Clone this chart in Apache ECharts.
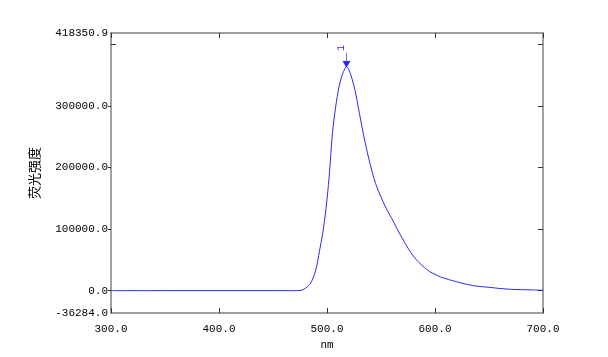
<!DOCTYPE html>
<html>
<head>
<meta charset="utf-8">
<script src="https://cdn.jsdelivr.net/npm/echarts@6/dist/echarts.min.js"></script>
<style>html,body{margin:0;padding:0;background:#fff}#c{width:608px;height:357px}</style>
</head>
<body>
<div id="c"></div>
<script>
var wavelengths = [300,350,400,450,470,476,480,484,487,490,493,496,499,502,505,508,511,514,517,518,520,523,526,530,535,540,545,550,555,560,565,570,575,580,585,590,595,600,605,610,615,620,630,640,650,660,670,680,690,700];
var intensity = [0,0,0,0,0,500,4000,10000,20000,36000,64000,93000,132000,185000,255000,298000,330000,350000,362000,363600,360000,345000,325000,288000,243000,205000,174000,152000,133000,117000,100000,84000,69000,56000,46000,38000,31000,26500,22300,19500,16800,14500,10000,7000,5500,3500,2200,1600,1200,600];
var yLabelValues = [-36284.0, 0, 100000, 200000, 300000, 418350.9];
var yTickValues = [0, 100000, 200000, 300000];
var yMin = -36284.0, yMax = 418350.9;
var xMin = 300, xMax = 700;
var peakX = 518, peakY = 363600, peakLabel = '1';

var mono = '"Liberation Mono", "DejaVu Sans Mono", monospace';
var axisGray = '#808080';
var chart = echarts.init(document.getElementById('c'));
var data = wavelengths.map(function(w, i){ return [w, intensity[i]]; });
chart.setOption({
  animation: false,
  grid: {left: 111, top: 33, right: 65, bottom: 44},
  xAxis: [{
    type: 'value', position: 'bottom', min: xMin, max: xMax, interval: 100,
    name: 'nm', nameLocation: 'middle', nameGap: 26,
    nameTextStyle: {fontFamily: mono, fontSize: 11, color: '#000'},
    axisLine: {onZero: false, lineStyle: {color: axisGray, width: 1.5}},
    axisTick: {inside: true, length: 5, lineStyle: {color: '#333'}},
    axisLabel: {fontFamily: mono, fontSize: 11, color: '#000', margin: 11,
      formatter: function(v){ return v.toFixed(1); }},
    splitLine: {show: false}
  }, {
    type: 'value', position: 'top', min: xMin, max: xMax, interval: 100,
    axisLine: {onZero: false, lineStyle: {color: axisGray, width: 1.5}},
    axisTick: {inside: true, length: 5, lineStyle: {color: '#333'}},
    axisLabel: {show: false}, splitLine: {show: false}
  }],
  yAxis: [{
    type: 'value', position: 'left', min: yMin, max: yMax,
    name: '荧光强度', nameLocation: 'middle', nameGap: 70, nameRotate: 90,
    nameTextStyle: {fontFamily: '"Noto Sans CJK SC"', fontSize: 13, color: '#000'},
    axisLine: {show: true, onZero: false, lineStyle: {color: axisGray, width: 1.5}},
    axisTick: {show: true, inside: false, length: 3, customValues: yTickValues, lineStyle: {color: '#333'}},
    axisLabel: {fontFamily: mono, fontSize: 11, color: '#000', margin: 3,
      customValues: yLabelValues,
      formatter: function(v){ return v.toFixed(1); }},
    splitLine: {show: false}
  }, {
    type: 'value', position: 'right', min: yMin, max: yMax,
    axisLine: {show: true, onZero: false, lineStyle: {color: axisGray, width: 1.5}},
    axisTick: {show: true, inside: true, length: 5, customValues: [0,100000,200000,300000,400000], lineStyle: {color: '#333'}},
    axisLabel: {show: false}, splitLine: {show: false}
  }, {
    type: 'value', position: 'left', min: yMin, max: yMax,
    axisLine: {show: false, onZero: false},
    axisTick: {show: true, inside: true, length: 5, customValues: [400000], lineStyle: {color: '#333'}},
    axisLabel: {show: false}, splitLine: {show: false}
  }],
  series: [{
    type: 'line', data: data, xAxisIndex: 0, yAxisIndex: 0,
    smooth: 0.3, showSymbol: false, symbol: 'none',
    lineStyle: {color: '#2a2af0', width: 1},
    markPoint: {
      symbol: 'path://M5,0 L5,10 M0,9 L5,14 L10,9 Z',
      symbolSize: [6, 14], symbolOffset: [0, '-50%'],
      itemStyle: {color: '#2a2af0', borderColor: '#2a2af0', borderWidth: 1},
      label: {show: true, position: 'top', distance: 4, formatter: peakLabel, rotate: 90,
        color: '#2a2af0', fontFamily: mono, fontSize: 10},
      data: [{coord: [peakX, peakY], value: peakLabel}]
    }
  }]
});
</script>
</body>
</html>
